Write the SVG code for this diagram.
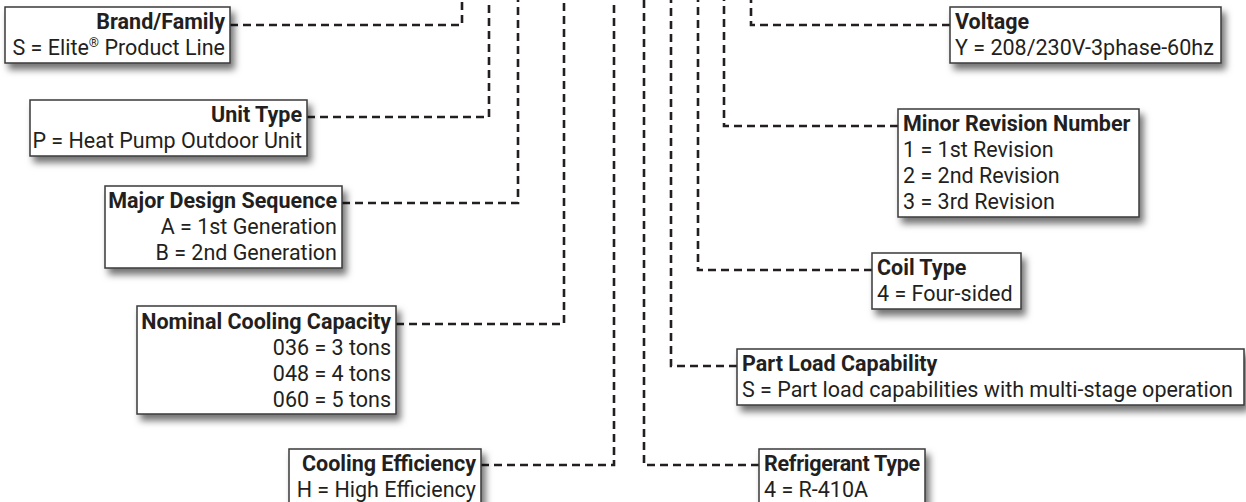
<svg xmlns="http://www.w3.org/2000/svg" width="1246" height="502" viewBox="0 0 1246 502">
<defs>
<filter id="sh" x="-10%" y="-20%" width="125%" height="170%">
<feDropShadow dx="4" dy="6" stdDeviation="3.5" flood-color="#000" flood-opacity="0.55"/>
</filter>
<style>
.box{fill:#fff;stroke:#3a3a3a;stroke-width:1.5;filter:url(#sh)}
.t{font-family:Roboto,"Liberation Sans",sans-serif;font-size:21.5px;fill:#231f20}
.b{font-weight:bold}
.r{text-anchor:end}
.c{fill:none;stroke:#231f20;stroke-width:2.6;stroke-dasharray:8 5}
</style>
</defs>
<rect width="1246" height="502" fill="#fff"/>
<g id="connectors">
<path class="c" d="M230,25 H462 V0"/>
<path class="c" d="M307,117 H489 V0"/>
<path class="c" d="M342,203 H518 V0"/>
<path class="c" d="M396,324 H564 V0"/>
<path class="c" d="M481,465 H614 V0"/>
<path class="c" d="M759,465 H644 V0"/>
<path class="c" d="M737,366 H671 V0"/>
<path class="c" d="M872,270 H698 V0"/>
<path class="c" d="M898,126 H724 V0"/>
<path class="c" d="M950,25 H751 V0"/>
</g>
<g id="brand">
<rect class="box" x="5" y="7" width="225" height="56"/>
<text class="t b r" x="225" y="29">Brand/Family</text>
<text class="t r" x="225" y="55">S = Elite<tspan font-size="13" dy="-8">®</tspan><tspan dy="8"> Product Line</tspan></text>
</g>
<g id="unit-type">
<rect class="box" x="30" y="100" width="277" height="56"/>
<text class="t b r" x="302" y="122">Unit Type</text>
<text class="t r" x="302" y="148">P = Heat Pump Outdoor Unit</text>
</g>
<g id="major-design">
<rect class="box" x="105" y="186" width="237" height="82"/>
<text class="t b r" x="337" y="208">Major Design Sequence</text>
<text class="t r" x="337" y="234">A = 1st Generation</text>
<text class="t r" x="337" y="260">B = 2nd Generation</text>
</g>
<g id="nominal-cooling">
<rect class="box" x="137" y="306" width="259" height="108"/>
<text class="t b r" x="391" y="329">Nominal Cooling Capacity</text>
<text class="t r" x="391" y="355">036 = 3 tons</text>
<text class="t r" x="391" y="381">048 = 4 tons</text>
<text class="t r" x="391" y="407">060 = 5 tons</text>
</g>
<g id="cooling-efficiency">
<rect class="box" x="289" y="449" width="192" height="60"/>
<text class="t b r" x="476" y="471">Cooling Efficiency</text>
<text class="t r" x="476" y="497">H = High Efficiency</text>
</g>
<g id="refrigerant-type">
<rect class="box" x="759" y="449" width="166" height="60"/>
<text class="t b" x="764" y="471" letter-spacing="-0.3">Refrigerant Type</text>
<text class="t" x="764" y="497">4 = R-410A</text>
</g>
<g id="part-load">
<rect class="box" x="737" y="349" width="507" height="56"/>
<text class="t b" x="742" y="371">Part Load Capability</text>
<text class="t" x="742" y="397">S = Part load capabilities with multi-stage operation</text>
</g>
<g id="coil-type">
<rect class="box" x="872" y="253" width="149" height="56"/>
<text class="t b" x="877" y="275">Coil Type</text>
<text class="t" x="877" y="301">4 = Four-sided</text>
</g>
<g id="minor-revision">
<rect class="box" x="898" y="109" width="241" height="108"/>
<text class="t b" x="903" y="131">Minor Revision Number</text>
<text class="t" x="903" y="157">1 = 1st Revision</text>
<text class="t" x="903" y="183">2 = 2nd Revision</text>
<text class="t" x="903" y="209">3 = 3rd Revision</text>
</g>
<g id="voltage">
<rect class="box" x="950" y="7" width="271" height="56"/>
<text class="t b" x="955" y="29">Voltage</text>
<text class="t" x="955" y="55">Y = 208/230V-3phase-60hz</text>
</g>
</svg>
